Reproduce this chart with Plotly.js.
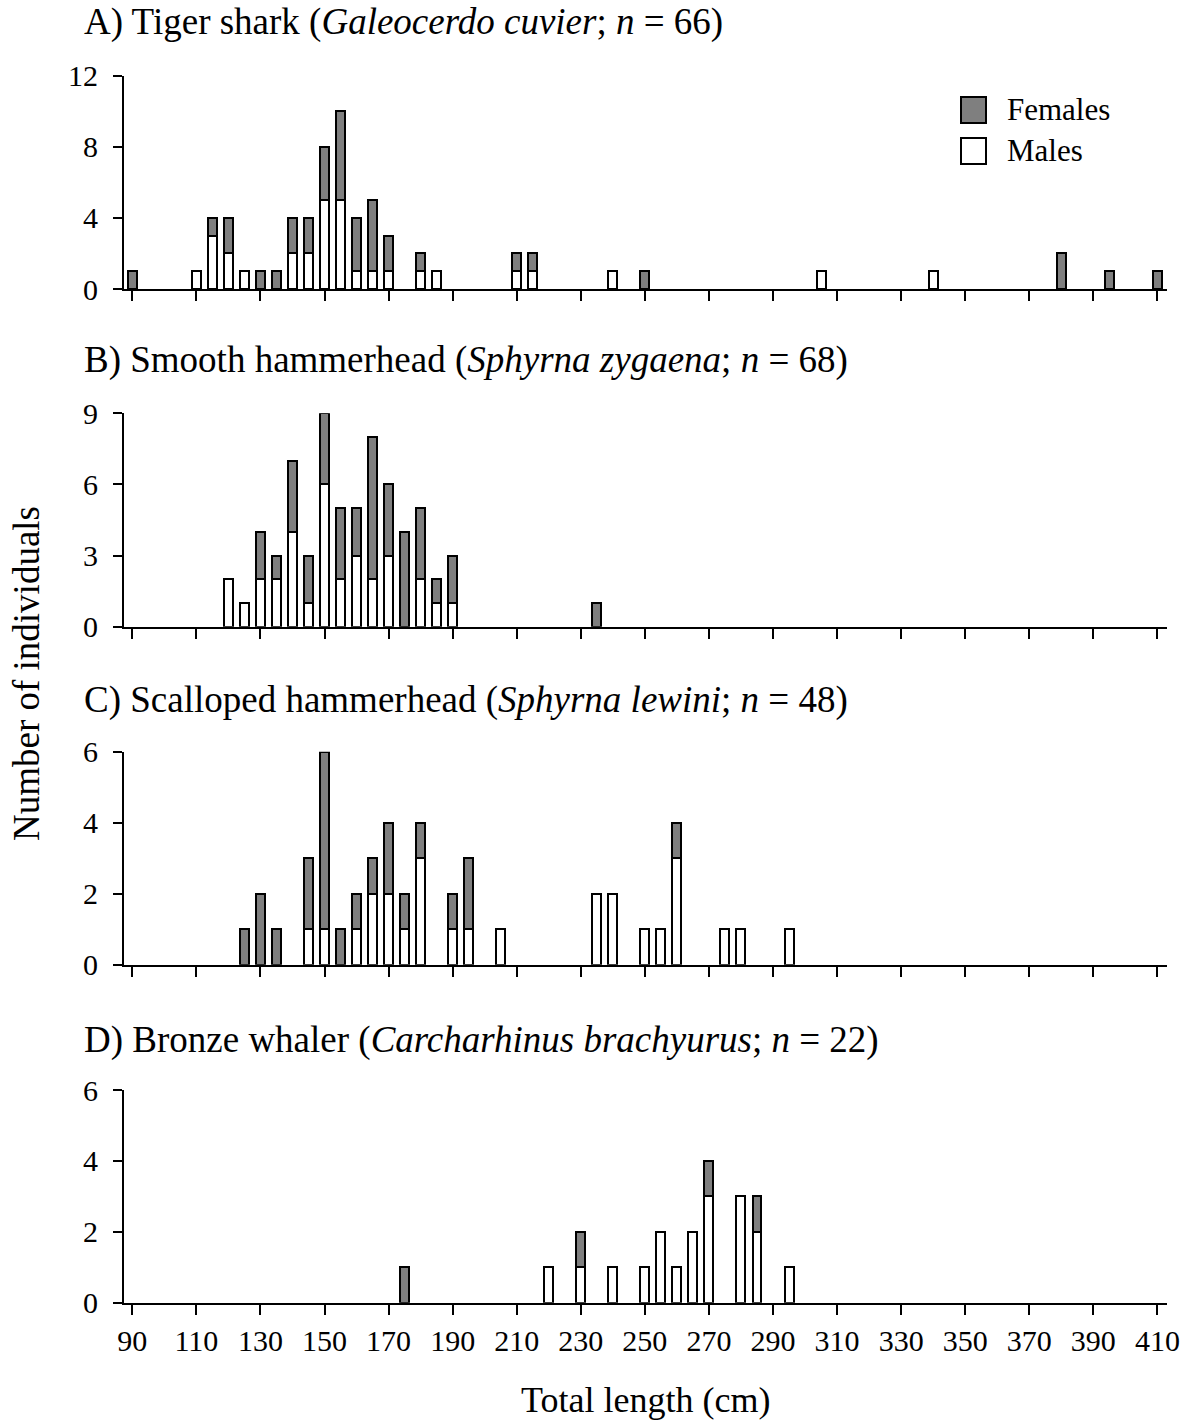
<!DOCTYPE html>
<html>
<head>
<meta charset="utf-8">
<script src="https://cdn.plot.ly/plotly-3.0.1.min.js"></script>
<style>html,body{margin:0;padding:0;background:#fff;}#chart{width:1190px;height:1423px;}</style>
</head>
<body>
<div id="chart"></div>
<script>
// ---- Data (total length bins in cm, counts) ----
const tigerX       = [90,110,115,120,125,130,135,140,145,150,155,160,165,170,180,185,210,215,240,250,305,340,380,395,410];
const tigerMales   = [0,1,3,2,1,0,0,2,2,5,5,1,1,1,1,1,1,1,1,0,1,1,0,0,0];
const tigerFemales = [1,0,1,2,0,1,1,2,2,3,5,3,4,2,1,0,1,1,0,1,0,0,2,1,1];

const smoothX       = [120,125,130,135,140,145,150,155,160,165,170,175,180,185,190,235];
const smoothMales   = [2,1,2,2,4,1,6,2,3,2,3,0,2,1,1,0];
const smoothFemales = [0,0,2,1,3,2,3,3,2,6,3,4,3,1,2,1];

const scallX       = [125,130,135,145,150,155,160,165,170,175,180,190,195,205,235,240,250,255,260,275,280,295];
const scallMales   = [0,0,0,1,1,0,1,2,2,1,3,1,1,1,2,2,1,1,3,1,1,1];
const scallFemales = [1,2,1,2,5,1,1,1,2,1,1,1,2,0,0,0,0,0,1,0,0,0];

const bronzeX       = [175,220,230,240,250,255,260,265,270,280,285,295];
const bronzeMales   = [0,1,1,1,1,2,1,2,3,3,2,1];
const bronzeFemales = [1,0,1,0,0,0,0,0,1,0,1,0];

const panelTitles = [
  'A) Tiger shark (<i>Galeocerdo cuvier</i>; <i>n</i> = 66)',
  'B) Smooth hammerhead (<i>Sphyrna zygaena</i>; <i>n</i> = 68)',
  'C) Scalloped hammerhead (<i>Sphyrna lewini</i>; <i>n</i> = 48)',
  'D) Bronze whaler (<i>Carcharhinus brachyurus</i>; <i>n</i> = 22)'
];
const yMax   = [12, 9, 6, 6];
const yDtick = [4, 3, 2, 2];
const xTickVals = [90,110,130,150,170,190,210,230,250,270,290,310,330,350,370,390,410];
const seriesNames = ['Males', 'Females'];

// ---- Build ----
const W = 1190, H = 1423;
const FONT = 'Liberation Serif, Times New Roman, serif';
const GRAY = '#7f7f7f';
const panels = [
  {x: tigerX,  m: tigerMales,  f: tigerFemales},
  {x: smoothX, m: smoothMales, f: smoothFemales},
  {x: scallX,  m: scallMales,  f: scallFemales},
  {x: bronzeX, m: bronzeMales, f: bronzeFemales}
];
// vertical pixel extents of each plot area (top, bottom)
const pxY = [[75.7, 289], [413.3, 626.7], [751.7, 964.7], [1090, 1302.7]];
const titleY = [22, 360, 700, 1040];
const nz = a => a.map(v => v === 0 ? null : v);

const data = [];
const layout = {
  width: W, height: H,
  margin: {l: 0, r: 0, t: 0, b: 0},
  paper_bgcolor: '#fff', plot_bgcolor: 'rgba(0,0,0,0)',
  barmode: 'stack', bargap: 0,
  showlegend: false,
  font: {family: FONT, color: '#000', size: 30},
  annotations: [], shapes: []
};

panels.forEach((p, i) => {
  const xa = i === 0 ? 'x' : 'x' + (i + 1);
  const ya = i === 0 ? 'y' : 'y' + (i + 1);
  data.push({type: 'bar', x: p.x, y: nz(p.m), name: seriesNames[0], xaxis: xa, yaxis: ya,
    width: 2.8, marker: {color: '#ffffff', line: {color: '#000', width: 2}}});
  data.push({type: 'bar', x: p.x, y: nz(p.f), name: seriesNames[1], xaxis: xa, yaxis: ya,
    width: 2.8, marker: {color: GRAY, line: {color: '#000', width: 2}}});

  const xkey = i === 0 ? 'xaxis' : 'xaxis' + (i + 1);
  const ykey = i === 0 ? 'yaxis' : 'yaxis' + (i + 1);
  layout[xkey] = {
    domain: [124 / W, 1166.7 / W], anchor: ya,
    range: [87.4, 412.9], tickvals: xTickVals,
    ticks: 'outside', ticklen: 10, tickwidth: 2, tickcolor: '#000',
    showline: true, linecolor: '#000', linewidth: 2,
    showgrid: false, zeroline: false,
    showticklabels: i === 3, ticklabelstandoff: 0,
    tickfont: {family: FONT, size: 30, color: '#000'}
  };
  layout[ykey] = {
    domain: [1 - pxY[i][1] / H, 1 - pxY[i][0] / H], anchor: xa,
    range: [0, yMax[i]], dtick: yDtick[i], tick0: 0,
    ticks: 'outside', ticklen: 9, tickwidth: 2, tickcolor: '#000',
    showline: true, linecolor: '#000', linewidth: 2,
    showgrid: false, zeroline: false, ticklabelstandoff: 9,
    tickfont: {family: FONT, size: 30, color: '#000'}
  };
  layout.annotations.push({
    xref: 'paper', yref: 'paper', x: 82 / W, y: 1 - titleY[i] / H,
    xanchor: 'left', yanchor: 'middle', showarrow: false,
    text: panelTitles[i], font: {family: FONT, size: 37, color: '#000'}
  });
});

// axis titles
layout.annotations.push({
  xref: 'paper', yref: 'paper', x: 26 / W, y: 1 - 674 / H, textangle: -90,
  xanchor: 'center', yanchor: 'middle', showarrow: false,
  text: 'Number of individuals', font: {family: FONT, size: 37, color: '#000'}
});
layout.annotations.push({
  xref: 'paper', yref: 'paper', x: 645 / W, y: 1 - 1400 / H,
  xanchor: 'center', yanchor: 'middle', showarrow: false,
  text: 'Total length (cm)', font: {family: FONT, size: 36, color: '#000'}
});

// legend (keys drawn in panel A)
const legendRows = [{name: seriesNames[1], fill: GRAY, y: 110}, {name: seriesNames[0], fill: '#ffffff', y: 151}];
legendRows.forEach(r => {
  layout.shapes.push({type: 'rect', xref: 'paper', yref: 'paper',
    x0: 961 / W, x1: 986 / W, y0: 1 - (r.y + 13) / H, y1: 1 - (r.y - 13) / H,
    fillcolor: r.fill, line: {color: '#000', width: 2}});
  layout.annotations.push({xref: 'paper', yref: 'paper', x: 1005 / W, y: 1 - r.y / H,
    xanchor: 'left', yanchor: 'middle', showarrow: false, text: r.name,
    font: {family: FONT, size: 31, color: '#000'}});
});

Plotly.newPlot('chart', data, layout, {staticPlot: true, displayModeBar: false});
</script>
</body>
</html>
